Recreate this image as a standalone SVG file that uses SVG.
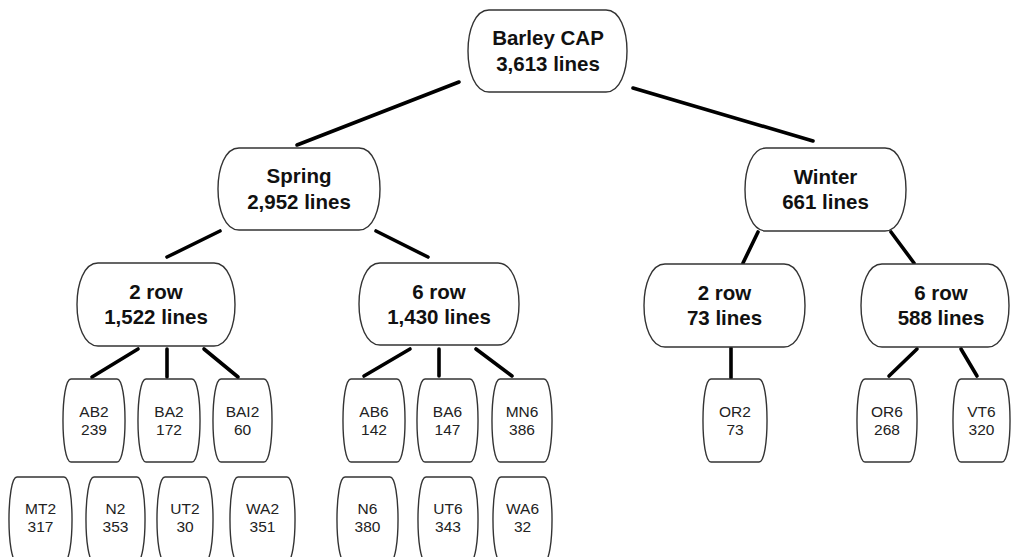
<svg xmlns="http://www.w3.org/2000/svg" width="1011" height="557" viewBox="0 0 1011 557">
<style>
.box{fill:#fff;stroke:#333;stroke-width:1.4}
.big{font-family:"Liberation Sans",Arial,sans-serif;font-weight:bold;font-size:20.5px;fill:#111;text-anchor:middle}
.sm{font-family:"Liberation Sans",Arial,sans-serif;font-size:15.5px;fill:#222;text-anchor:middle}
.edge{stroke:#000;stroke-width:3.6;stroke-linecap:round;fill:none}
</style>
<rect width="1011" height="557" fill="#fff"/>
<g id="connectors">
<line class="edge" x1="459" y1="82" x2="297" y2="145"/>
<line class="edge" x1="633" y1="88" x2="813" y2="141"/>
<line class="edge" x1="220" y1="231" x2="167" y2="257"/>
<line class="edge" x1="376" y1="231" x2="428" y2="257"/>
<line class="edge" x1="758" y1="232" x2="743" y2="263"/>
<line class="edge" x1="891" y1="232" x2="914" y2="263"/>
<line class="edge" x1="138" y1="349" x2="92" y2="377"/>
<line class="edge" x1="167" y1="349" x2="167" y2="377"/>
<line class="edge" x1="204" y1="349" x2="238" y2="377"/>
<line class="edge" x1="410" y1="349" x2="364" y2="376"/>
<line class="edge" x1="439" y1="349" x2="439" y2="376"/>
<line class="edge" x1="476" y1="349" x2="512" y2="376"/>
<line class="edge" x1="731" y1="348" x2="731" y2="378"/>
<line class="edge" x1="917" y1="349" x2="889" y2="376"/>
<line class="edge" x1="961" y1="349" x2="977" y2="376"/>
</g>
<g id="root"><path class="box" d="M489,10 H606 C634,10 634,92 606,92 H489 C461,92 461,10 489,10 Z"/><text class="big" x="548" y="45">Barley CAP</text><text class="big" x="548" y="71">3,613 lines</text></g>
<g id="spring"><path class="box" d="M239,148 H359 C387,148 387,230 359,230 H239 C211,230 211,148 239,148 Z"/><text class="big" x="299" y="183">Spring</text><text class="big" x="299" y="209">2,952 lines</text></g>
<g id="winter"><path class="box" d="M766,148 H885 C913,148 913,231 885,231 H766 C738,231 738,148 766,148 Z"/><text class="big" x="825.5" y="184">Winter</text><text class="big" x="825.5" y="209">661 lines</text></g>
<g id="spring-2row"><path class="box" d="M98,263 H214 C242,263 242,346 214,346 H98 C70,346 70,263 98,263 Z"/><text class="big" x="156" y="299">2 row</text><text class="big" x="156" y="324">1,522 lines</text></g>
<g id="spring-6row"><path class="box" d="M380,263 H498 C526,263 526,345 498,345 H380 C352,345 352,263 380,263 Z"/><text class="big" x="439" y="299">6 row</text><text class="big" x="439" y="324">1,430 lines</text></g>
<g id="winter-2row"><path class="box" d="M665,264 H784 C812,264 812,347 784,347 H665 C637,347 637,264 665,264 Z"/><text class="big" x="724.5" y="300">2 row</text><text class="big" x="724.5" y="325">73 lines</text></g>
<g id="winter-6row"><path class="box" d="M882,264 H988 C1016,264 1016,347 988,347 H882 C854,347 854,264 882,264 Z"/><text class="big" x="941" y="300">6 row</text><text class="big" x="941" y="325">588 lines</text></g>
<g id="AB2"><path class="box" d="M71,379 H117 C127.7,379 127.7,462 117,462 H71 C60.3,462 60.3,379 71,379 Z"/><text class="sm" x="94" y="417">AB2</text><text class="sm" x="94" y="435">239</text></g>
<g id="BA2"><path class="box" d="M146,379 H192 C202.7,379 202.7,462 192,462 H146 C135.3,462 135.3,379 146,379 Z"/><text class="sm" x="169" y="417">BA2</text><text class="sm" x="169" y="435">172</text></g>
<g id="BAI2"><path class="box" d="M221,379 H264 C274.7,379 274.7,462 264,462 H221 C210.3,462 210.3,379 221,379 Z"/><text class="sm" x="242.5" y="417">BAI2</text><text class="sm" x="242.5" y="435">60</text></g>
<g id="AB6"><path class="box" d="M351,379 H397 C407.7,379 407.7,462 397,462 H351 C340.3,462 340.3,379 351,379 Z"/><text class="sm" x="374" y="417">AB6</text><text class="sm" x="374" y="435">142</text></g>
<g id="BA6"><path class="box" d="M425,379 H470 C480.7,379 480.7,462 470,462 H425 C414.3,462 414.3,379 425,379 Z"/><text class="sm" x="447.5" y="417">BA6</text><text class="sm" x="447.5" y="435">147</text></g>
<g id="MN6"><path class="box" d="M500,379 H544 C554.7,379 554.7,462 544,462 H500 C489.3,462 489.3,379 500,379 Z"/><text class="sm" x="522" y="417">MN6</text><text class="sm" x="522" y="435">386</text></g>
<g id="OR2"><path class="box" d="M711,379 H759 C769.7,379 769.7,462 759,462 H711 C700.3,462 700.3,379 711,379 Z"/><text class="sm" x="735" y="417">OR2</text><text class="sm" x="735" y="435">73</text></g>
<g id="OR6"><path class="box" d="M865,379 H909 C919.7,379 919.7,462 909,462 H865 C854.3,462 854.3,379 865,379 Z"/><text class="sm" x="887" y="417">OR6</text><text class="sm" x="887" y="435">268</text></g>
<g id="VT6"><path class="box" d="M961,379 H1002 C1012.7,379 1012.7,462 1002,462 H961 C950.3,462 950.3,379 961,379 Z"/><text class="sm" x="981.5" y="417">VT6</text><text class="sm" x="981.5" y="435">320</text></g>
<g id="MT2"><path class="box" d="M17,477 H64 C74.7,477 74.7,562 64,562 H17 C6.3,562 6.3,477 17,477 Z"/><text class="sm" x="40.5" y="514">MT2</text><text class="sm" x="40.5" y="532">317</text></g>
<g id="N2"><path class="box" d="M94,477 H137 C147.7,477 147.7,562 137,562 H94 C83.3,562 83.3,477 94,477 Z"/><text class="sm" x="115.5" y="514">N2</text><text class="sm" x="115.5" y="532">353</text></g>
<g id="UT2"><path class="box" d="M165,477 H205 C215.7,477 215.7,562 205,562 H165 C154.3,562 154.3,477 165,477 Z"/><text class="sm" x="185" y="514">UT2</text><text class="sm" x="185" y="532">30</text></g>
<g id="WA2"><path class="box" d="M238,477 H287 C297.7,477 297.7,562 287,562 H238 C227.3,562 227.3,477 238,477 Z"/><text class="sm" x="262.5" y="514">WA2</text><text class="sm" x="262.5" y="532">351</text></g>
<g id="N6"><path class="box" d="M345,477 H390 C400.7,477 400.7,562 390,562 H345 C334.3,562 334.3,477 345,477 Z"/><text class="sm" x="367.5" y="514">N6</text><text class="sm" x="367.5" y="532">380</text></g>
<g id="UT6"><path class="box" d="M426,477 H470 C480.7,477 480.7,562 470,562 H426 C415.3,562 415.3,477 426,477 Z"/><text class="sm" x="448" y="514">UT6</text><text class="sm" x="448" y="532">343</text></g>
<g id="WA6"><path class="box" d="M501,477 H544 C554.7,477 554.7,562 544,562 H501 C490.3,562 490.3,477 501,477 Z"/><text class="sm" x="522.5" y="514">WA6</text><text class="sm" x="522.5" y="532">32</text></g>
</svg>
